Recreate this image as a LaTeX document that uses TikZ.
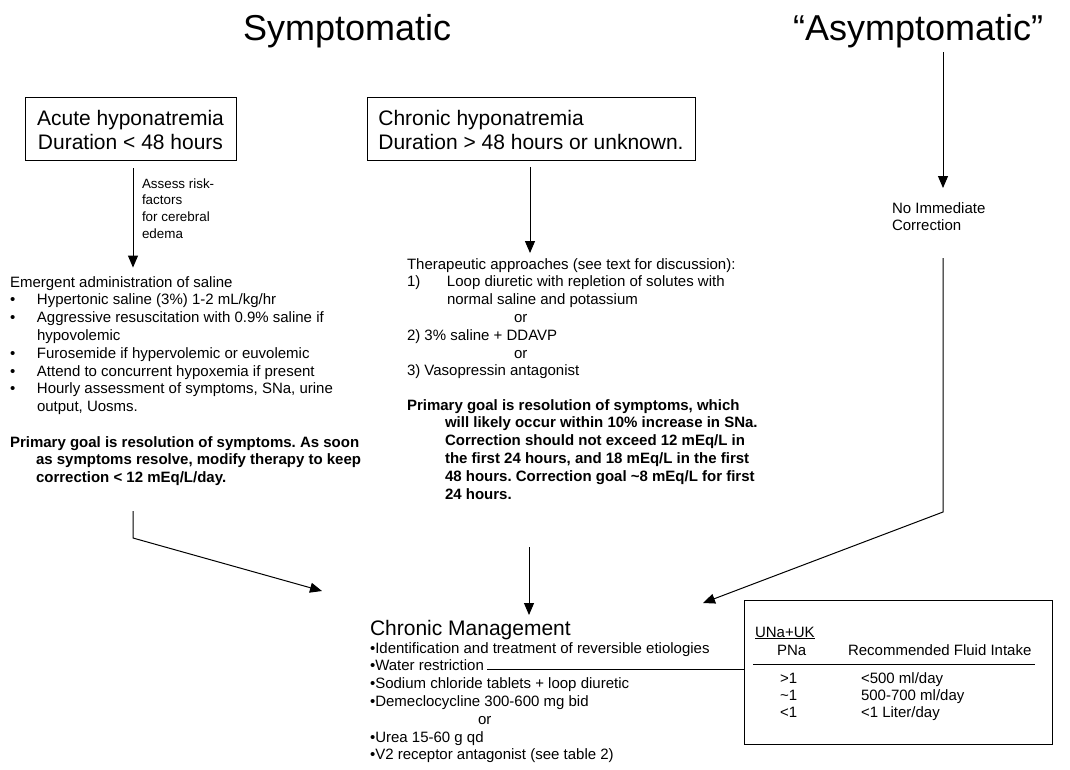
\documentclass[tikz,border=0pt]{standalone}
\usepackage{fontspec}
\setmainfont{Liberation Sans}
\usetikzlibrary{arrows.meta,calc,positioning}
\frenchspacing

\newcommand{\bodysize}{\fontsize{15}{17.8}\selectfont}
\newcommand{\headsize}{\fontsize{21}{24.5}\selectfont}

\begin{document}
\begin{tikzpicture}[x=1pt,y=-1pt,>={Triangle[width=10pt,length=12pt]},font=\bodysize,
  every node/.style={inner sep=0pt,outer sep=0pt},
  lbl/.style={anchor=base west},
  hbox/.style={draw,line width=1pt,font=\headsize},
  arr/.style={->,line width=1pt}]
\useasboundingbox (0,0) rectangle (1070,769);

% titles
\node[lbl,font=\fontsize{36}{40}\selectfont] (sym) at (243,40) {Symptomatic};
\node[lbl,font=\fontsize{36}{40}\selectfont] (asym) at (793,40) {“Asymptomatic”};

% duration boxes
\node[hbox,minimum width=211pt,minimum height=63pt] (acute) at (130.5,128.5)
  {\raisebox{-4pt}[\height][\depth]{\begin{tabular}{@{}c@{}}Acute hyponatremia\\Duration < 48 hours\end{tabular}}};
\node[hbox,minimum width=328pt,minimum height=63pt] (chronic) at (531,128.5)
  {\raisebox{-4pt}[\height][\depth]{\begin{tabular}{@{}l@{}}Chronic hyponatremia\\Duration > 48 hours or unknown.\end{tabular}}};

% acute branch
\node[lbl,font=\fontsize{13.4}{16.7}\selectfont] (risk) at (142,188)
  {\begin{tabular}[t]{@{}l@{}}Assess risk-\\factors\\for cerebral\\edema\end{tabular}};
\node[lbl] (emerg) at (10,287) {\begin{tabular}[t]{@{}p{27pt}@{}l@{}}
  \multicolumn{2}{@{}l@{}}{Emergent administration of saline}\\
  • & Hypertonic saline (3\%) 1-2 mL/kg/hr\\
  • & Aggressive resuscitation with 0.9\% saline if\\
    & hypovolemic\\
  • & Furosemide if hypervolemic or euvolemic\\
  • & Attend to concurrent hypoxemia if present\\
  • & Hourly assessment of symptoms, SNa, urine\\
    & output, Uosms.
  \end{tabular}};
\node[lbl,font=\bodysize\bfseries] (goalA) at (10,447) {\begin{tabular}[t]{@{}l@{}}
  Primary goal is resolution of symptoms. As soon\\
  \hspace*{26pt}as symptoms resolve, modify therapy to keep\\
  \hspace*{26pt}correction < 12 mEq/L/day.
  \end{tabular}};

% chronic branch
\node[lbl] (ther) at (407,269) {\begin{tabular}[t]{@{}p{40pt}@{}l@{}}
  \multicolumn{2}{@{}l@{}}{Therapeutic approaches (see text for discussion):}\\
  1) & Loop diuretic with repletion of solutes with\\
     & normal saline and potassium\\
     & \hspace*{67pt}or\\
  \multicolumn{2}{@{}l@{}}{2) 3\% saline + DDAVP}\\
     & \hspace*{67pt}or\\
  \multicolumn{2}{@{}l@{}}{3) Vasopressin antagonist}
  \end{tabular}};
\node[lbl,font=\bodysize\bfseries] (goalC) at (407,410) {\begin{tabular}[t]{@{}l@{}}
  Primary goal is resolution of symptoms, which\\
  \hspace*{38pt}will likely occur within 10\% increase in SNa.\\
  \hspace*{38pt}Correction should not exceed 12 mEq/L in\\
  \hspace*{38pt}the first 24 hours, and 18 mEq/L in the first\\
  \hspace*{38pt}48 hours. Correction goal \textasciitilde 8 mEq/L for first\\
  \hspace*{38pt}24 hours.
  \end{tabular}};

% asymptomatic branch
\node[lbl] (noimm) at (892,213) {\begin{tabular}[t]{@{}l@{}}No Immediate\\Correction\end{tabular}};

% chronic management
\node[lbl,font=\headsize] (mgmt) at (370,635) {Chronic Management};
\node[lbl] (mlist) at (370,653) {\begin{tabular}[t]{@{}l@{}}
  •Identification and treatment of reversible etiologies\\
  •Water restriction\\
  •Sodium chloride tablets + loop diuretic\\
  •Demeclocycline 300-600 mg bid\\
  \hspace*{108pt}or\\
  •Urea 15-60 g qd\\
  •V2 receptor antagonist (see table 2)
  \end{tabular}};

% fluid intake table
\node[draw,line width=1pt,minimum width=308pt,minimum height=144pt,anchor=north west] (tbl) at (744,600) {};
\node[lbl] (ratio) at (755,637) {\underline{UNa+UK}};
\node[lbl] (pna) at (777,655) {PNa};
\node[lbl] (rfi) at (848,655) {Recommended Fluid Intake};
\draw[line width=1pt] ([xshift=-2pt]ratio.west |- 0,664) -- ([xshift=4pt]rfi.east |- 0,664);
\node[lbl] (gt) at (780,683) {>1};
\node[lbl] (eq) at (780,700) {\textasciitilde1};
\node[lbl] (lt) at (780,717) {<1};
\node[lbl] (fgt) at (861,683) {<500 ml/day};
\node[lbl] (feq) at (861,700) {500-700 ml/day};
\node[lbl] (flt) at (861,717) {<1 Liter/day};

% connectors
\coordinate (afoot) at (133,511);
\coordinate (aturn) at (133,538);
\coordinate (cfoot) at (529,547);
\coordinate (nfoot) at (943,258);
\coordinate (nturn) at (943,512);
\coordinate (mgmtL) at (322,591);
\coordinate (mgmtC) at (529,615);
\coordinate (mgmtR) at (703,603);
\coordinate (water) at (487,669);

\draw[arr,shorten <=8pt,shorten >=7pt] ([xshift=2.5pt]acute.south) -- ([xshift=2.5pt]acute.south |- emerg.north);
\draw[arr,shorten <=7pt,shorten >=3.5pt] ([xshift=-1pt]chronic.south) -- ([xshift=-1pt]chronic.south |- ther.north);
\draw[arr] (943,52) -- (943,188);
\draw[arr] (afoot) -- (aturn) -- (mgmtL);
\draw[arr] (cfoot) -- (mgmtC);
\draw[arr] (nfoot) -- (nturn) -- (mgmtR);
\draw[line width=1pt] (water) -- (water -| tbl.west);
\end{tikzpicture}
\end{document}
